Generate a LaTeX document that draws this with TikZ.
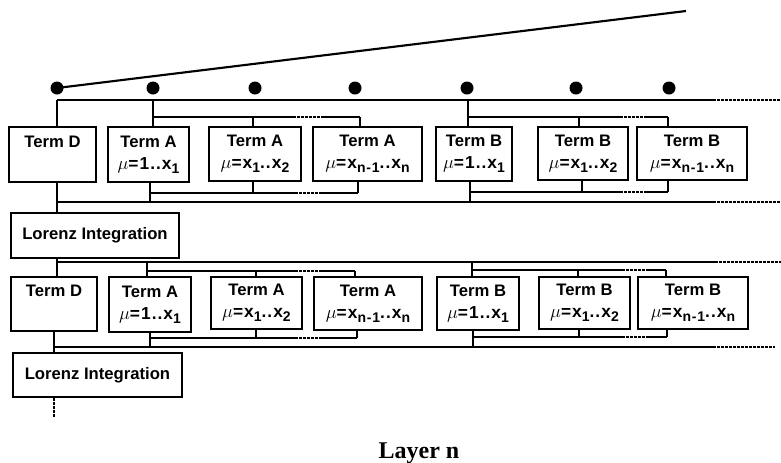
\documentclass[tikz,border=0pt]{standalone}
\usepackage{fontspec}
\setmainfont{Liberation Sans}
\newfontfamily\layerfont{Liberation Serif}

% box given by its corners (x1,y1)-(x2,y2) in pixel units
\newcommand\termbox[6]{%
  \node[tbox, minimum width={(#4-#2)*0.75pt}, minimum height={(#5-#3)*0.75pt}]
    (#1) at ({(#2+#4)/2},{(#3+#5)/2}) {#6};}

% feed from a main bus into a group of three boxes #11,#12,#13
% #2 bus y, #3 sub-bus y, #4 first x, #5 middle x, #6/#7 dotted part, #8 last x
\newcommand\feedin[8]{%
  \coordinate (#1-i) at (#4,#2);
  \coordinate (#1-s) at (#4,#3);
  \coordinate (#1-m) at (#5,#3);
  \coordinate (#1-p) at (#6,#3);
  \coordinate (#1-q) at (#7,#3);
  \coordinate (#1-e) at (#8,#3);
  \draw[wire] (#1-i) -- (#1-i |- #11.north);
  \draw[wire] (#1-s) -- (#1-p);
  \draw[tail] (#1-p) -- (#1-q);
  \draw[wire] (#1-q) -- (#1-e);
  \draw[wire] (#1-m) -- (#1-m |- #12.north);
  \draw[wire] (#1-e) -- (#1-e |- #13.north);}

% collect a group of three boxes back onto a main bus
\newcommand\feedout[8]{%
  \coordinate (#1-o) at (#4,#2);
  \coordinate (#1-s) at (#4,#3);
  \coordinate (#1-m) at (#5,#3);
  \coordinate (#1-p) at (#6,#3);
  \coordinate (#1-q) at (#7,#3);
  \coordinate (#1-e) at (#8,#3);
  \draw[wire] (#1-o |- #11.south) -- (#1-o);
  \draw[wire] (#1-s) -- (#1-p);
  \draw[tail] (#1-p) -- (#1-q);
  \draw[wire] (#1-q) -- (#1-e);
  \draw[wire] (#1-m |- #12.south) -- (#1-m);
  \draw[wire] (#1-e |- #13.south) -- (#1-e);}

% index range line of a term box
\newcommand\ix[1]{\raisebox{-3.2pt}{\fontsize{10.5}{10.5}\selectfont #1}}
\newcommand\muline[2]{{\addfontfeature{LetterSpace=6}\fontsize{13}{16.5}\selectfont
  \scalebox{1.15}{$\mu$}=#1..#2}}

\begin{document}
\begin{tikzpicture}[x=0.75pt,y=-0.75pt,
  wire/.style={line width=1.6pt},
  tail/.style={line width=1.5pt, dash pattern=on 2pt off 1pt},
  tbox/.style={draw, line width=1.8pt, inner sep=0pt, align=center,
    font=\bfseries\fontsize{12.5}{16.5}\selectfont},
  dot/.style={circle, fill=black, inner sep=0pt, minimum size=13*0.75pt}]
\useasboundingbox (0,0) rectangle (781,462);

% ---- first stage ----
\termbox{d1}{9}{127}{96}{182}{Term D\\\vphantom{\muline{1}{x\ix{1}}}}
\termbox{ta1}{108}{127}{189}{182}{Term A\\\muline{1}{x\ix{1}}}
\termbox{ta2}{209}{127}{301}{181}{Term A\\\muline{x\ix{1}}{x\ix{2}}}
\termbox{ta3}{313}{127}{422}{181}{Term A\\\muline{x\ix{n-1}}{x\ix{n}}}
\termbox{tb1}{436}{127}{512}{181}{Term B\\\muline{1}{x\ix{1}}}
\termbox{tb2}{538}{127}{628}{180}{Term B\\\muline{x\ix{1}}{x\ix{2}}}
\termbox{tb3}{637}{127}{747}{180}{Term B\\\muline{x\ix{n-1}}{x\ix{n}}}
\termbox{l1}{11}{213}{179}{258}{Lorenz Integration}

% ---- second stage ----
\termbox{d2}{11}{277}{97}{331}{Term D\\\vphantom{\muline{1}{x\ix{1}}}}
\termbox{ua1}{109}{277}{191}{332}{Term A\\\muline{1}{x\ix{1}}}
\termbox{ua2}{211}{277}{302}{329}{Term A\\\muline{x\ix{1}}{x\ix{2}}}
\termbox{ua3}{314}{277}{422}{330}{Term A\\\muline{x\ix{n-1}}{x\ix{n}}}
\termbox{ub1}{437}{277}{519}{330}{Term B\\\muline{1}{x\ix{1}}}
\termbox{ub2}{539}{277}{630}{329}{Term B\\\muline{x\ix{1}}{x\ix{2}}}
\termbox{ub3}{638}{277}{748}{329}{Term B\\\muline{x\ix{n-1}}{x\ix{n}}}
\termbox{l2}{13}{353}{182}{397}{Lorenz Integration}

% ---- input points and the rising line ----
\node[dot] (p1) at (57,88) {};
\node[dot] (p2) at (153,88) {};
\node[dot] (p3) at (255,88) {};
\node[dot] (p4) at (355,88) {};
\node[dot] (p5) at (467,88) {};
\node[dot] (p6) at (576,88) {};
\node[dot] (p7) at (669,88) {};
\coordinate (rise) at (686,11);
\draw[wire] (p1.center) -- (rise);

% ---- main buses ----
\coordinate (m1a) at (57,100);  \coordinate (m1b) at (713,100); \coordinate (m1c) at (781,100);
\coordinate (m2a) at (57,202);  \coordinate (m2b) at (713,202); \coordinate (m2c) at (781,202);
\coordinate (m3a) at (57,262);  \coordinate (m3b) at (715,262); \coordinate (m3c) at (781,262);
\coordinate (m4a) at (54,347);  \coordinate (m4b) at (713,347); \coordinate (m4c) at (775,347);
\draw[wire] (m1a) -- (m1b); \draw[tail] (m1b) -- (m1c);
\draw[wire] (m2a) -- (m2b); \draw[tail] (m2b) -- (m2c);
\draw[wire] (m3a) -- (m3b); \draw[tail] (m3b) -- (m3c);
\draw[wire] (m4a) -- (m4b); \draw[tail] (m4b) -- (m4c);

% ---- Term D / Lorenz spine ----
\draw[wire] (m1a) -- (m1a |- d1.north);
\draw[wire] (m2a |- d1.south) -- (m2a |- l1.north);
\draw[wire] (m3a |- l1.south) -- (m3a |- d2.north);
\draw[wire] (m4a |- d2.south) -- (m4a |- l2.north);
\coordinate (more) at (54,417);
\draw[tail] (more |- l2.south) -- (more);

% ---- group feeds ----
\feedin{ta}{100}{117}{153}{253}{293}{322}{360}
\feedin{tb}{100}{117}{468}{579}{620}{647}{668}
\feedout{ta}{202}{193}{150}{253}{295}{322}{358}
\feedout{tb}{202}{192}{470}{582}{620}{647}{668}
\feedin{ua}{262}{271}{147}{256}{295}{322}{355}
\feedin{ub}{262}{270}{472}{578}{622}{647}{666}
\feedout{ua}{347}{338}{150}{256}{295}{322}{357}
\feedout{ub}{347}{337}{473}{579}{622}{647}{667}

% ---- caption ----
\node[anchor=base, font=\layerfont\bfseries\fontsize{18}{20}\selectfont] (cap) at (419,458) {Layer n};
\end{tikzpicture}
\end{document}
